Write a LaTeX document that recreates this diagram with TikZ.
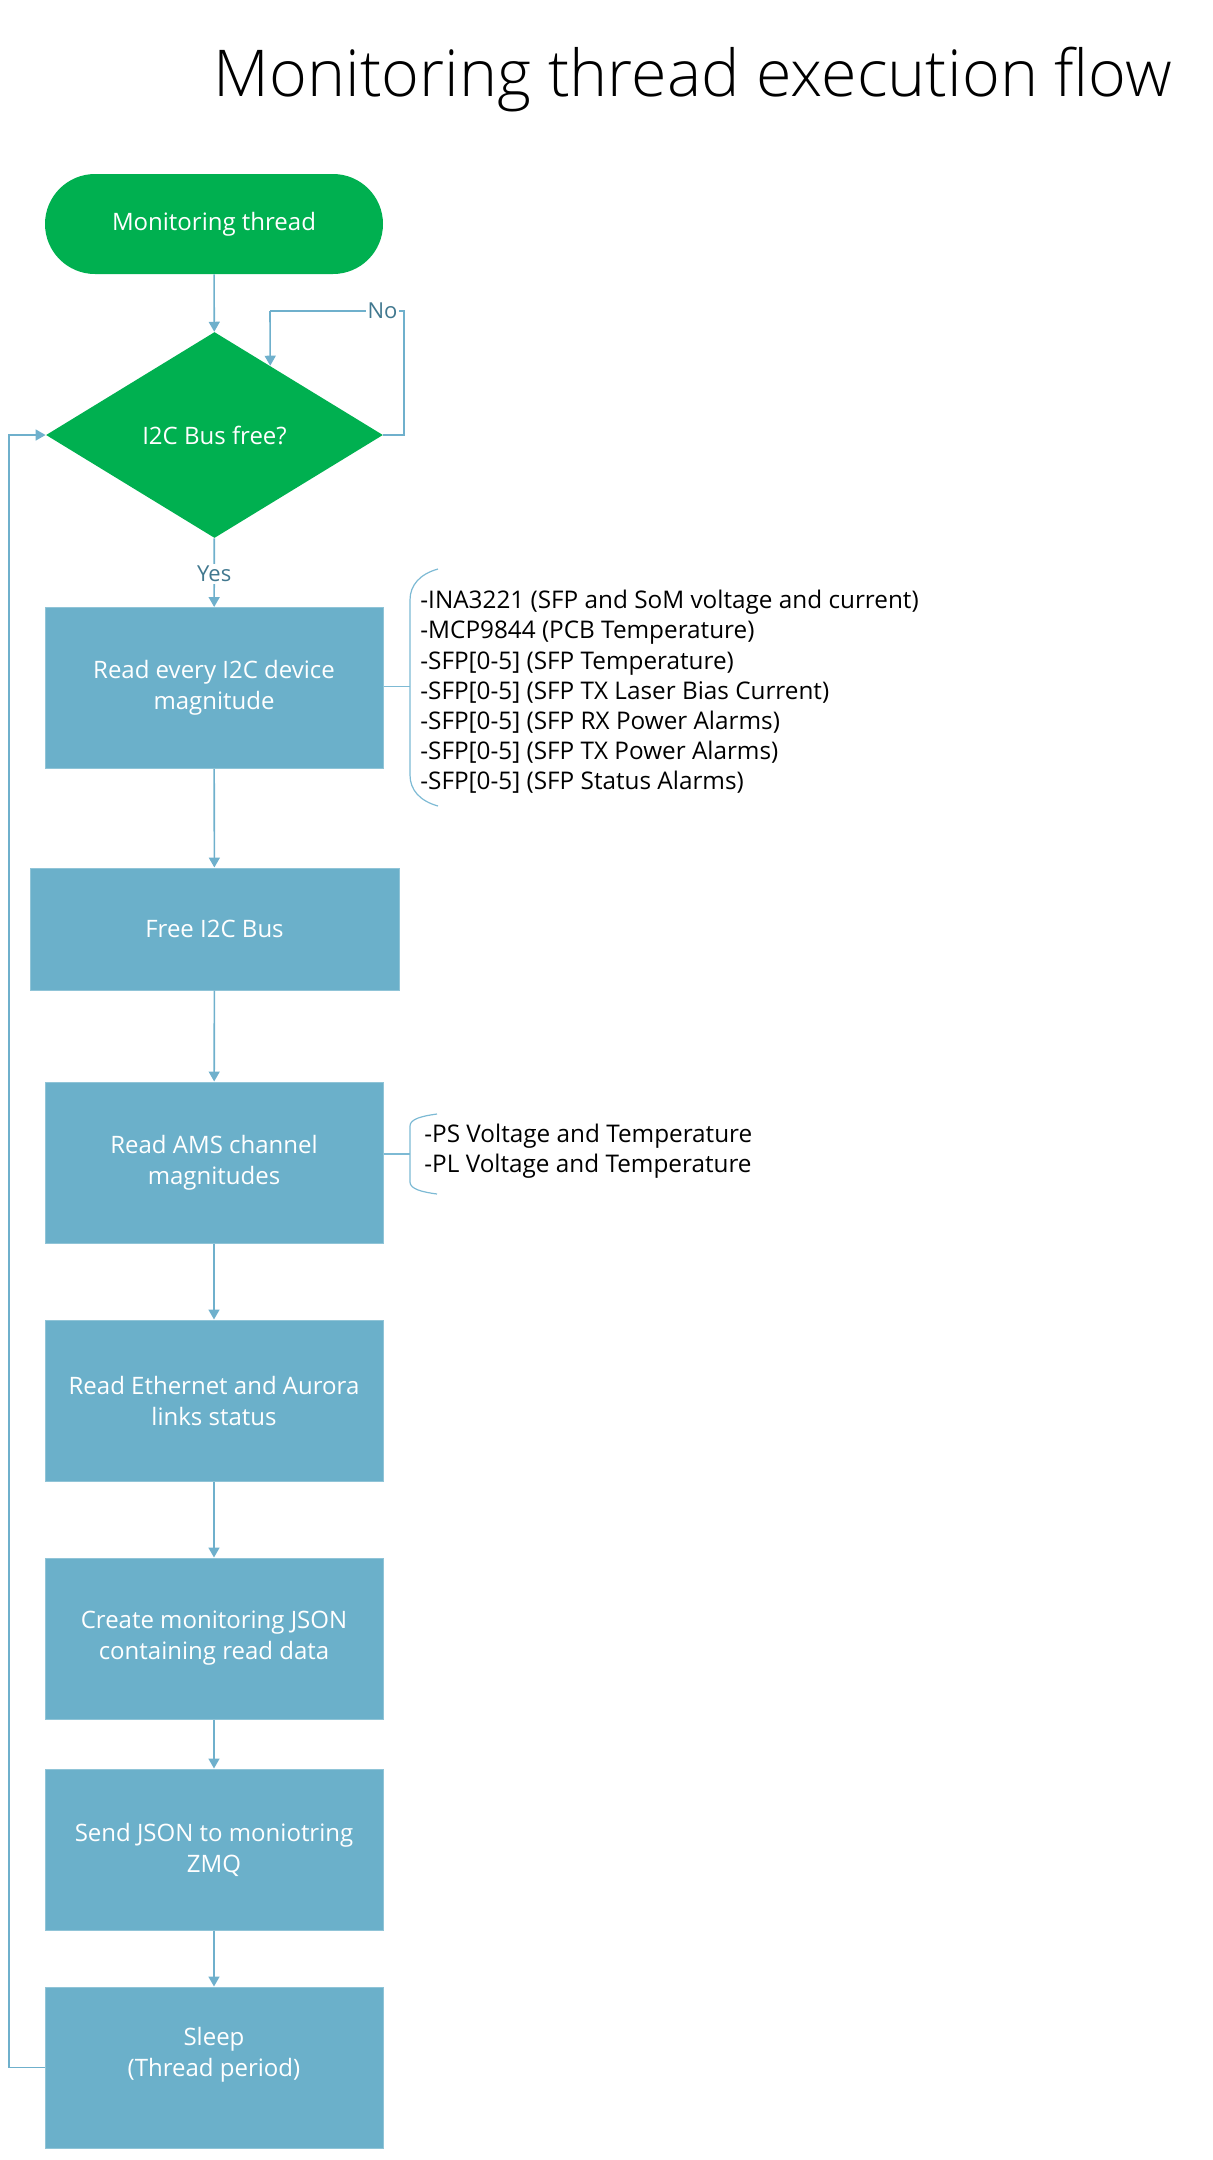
\documentclass[tikz,border=0pt]{standalone}
\usepackage{fontspec}
\setmainfont{Open Sans}
\IfFontExistsTF{Open Sans Light}{\newfontfamily\titlefont{Open Sans Light}}{\newfontfamily\titlefont{Open Sans}}
\usetikzlibrary{arrows.meta,shapes.geometric}
\definecolor{grnc}{HTML}{00B050}
\definecolor{boxc}{HTML}{6BB0CA}
\definecolor{lnc}{HTML}{6FB0CC}
\definecolor{lblc}{HTML}{41788F}
\definecolor{brcc}{HTML}{7DBAD4}
\tikzset{
  conn/.style={draw=lnc, line width=0.8pt, -{Triangle[length=5pt,width=5.5pt]}},
  plainline/.style={draw=lnc, line width=0.8pt},
  proc/.style={rectangle, fill=boxc, draw=boxc!75!white, line width=0.5pt, text=white,
    font=\fontsize{12}{15.5}\selectfont, align=center,
    minimum width=169pt, minimum height=80.5pt, inner sep=0pt},
  lbl/.style={fill=white, text=lblc, font=\fontsize{11}{13}\selectfont, inner sep=1pt},
  note/.style={font=\fontsize{12.15}{15.1}\selectfont, align=left, anchor=west, inner sep=0pt, text=black},
  brline/.style={draw=brcc, line width=0.6pt},
}
\begin{document}
\begin{tikzpicture}[x=0.5pt,y=-0.5pt]
\useasboundingbox (0,0) rectangle (1213,2160);

% title
\node[font=\titlefont\fontsize{32.3}{38}\selectfont, anchor=base, inner sep=0pt] (title) at (693,96) {Monitoring thread execution flow};

% start
\node[rectangle, rounded corners=25pt, fill=grnc, text=white, font=\fontsize{12}{15.5}\selectfont,
  minimum width=169pt, minimum height=50pt, inner sep=0pt] (start) at (214,224) {Monitoring thread};

% decision
\node[diamond, aspect=1.64, fill=grnc, text=white, font=\fontsize{12}{15.5}\selectfont,
  minimum width=168.5pt, minimum height=103pt, inner sep=0pt] (dia) at (214.5,435) {I2C Bus free?};

% process boxes
\node[proc] (b1) at (214,688) {Read every I2C device\\magnitude};
\node[proc, minimum width=184.5pt, minimum height=61pt] (b2) at (214.5,929) {Free I2C Bus};
\node[proc] (b3) at (214,1162.5) {Read AMS channel\\magnitudes};
\node[proc] (b4) at (214,1400.5) {Read Ethernet and Aurora\\links status};
\node[proc] (b5) at (214,1638.5) {Create monitoring JSON\\containing read data};
\node[proc] (b6) at (214,1849.5) {Send JSON to moniotring\\ZMQ};
\node[proc] (b7) at (214,2067.5) {Sleep\\(Thread period)\\\mbox{}};

% main connectors
\draw[conn] (start) -- (dia);
\draw[conn] (dia) -- node[lbl, pos=0.52] (yes) {Yes} (b1);
\draw[conn] (b1) -- (b2);
\draw[conn] (b2) -- (b3);
\draw[conn] (b3) -- (b4);
\draw[conn] (b4) -- (b5);
\draw[conn] (b5) -- (b6);
\draw[conn] (b6) -- (b7);

% "No" loop
\path (dia.north) -- (dia.east) coordinate[pos=0.33] (noin);
\coordinate (nor) at (404,435);
\coordinate (notr) at (404,311);
\coordinate (notl) at (270,311);
\draw[plainline] (dia.east) -- (nor) -- (notr) -- node[lbl, pos=0.16] (no) {No} (notl);
\draw[conn] (notl) -- (noin);

% return loop
\coordinate (retb) at (9,2067.5);
\draw[conn] (b7.west) -- (retb) |- (dia.west);

% annotation 1
\coordinate (br1mid) at (410,686.5);
\draw[brline] (b1.east |- br1mid) -- (br1mid);
\draw[brline] (438,569) .. controls (420,574) and (410,585) .. (410,600) -- (410,775)
  .. controls (410,790) and (420,801) .. (438,806);
\node[note] (n1) at (420,692) {-INA3221 (SFP and SoM voltage and current)\\
-MCP9844 (PCB Temperature)\\
-SFP[0-5] (SFP Temperature)\\
-SFP[0-5] (SFP TX Laser Bias Current)\\
-SFP[0-5] (SFP RX Power Alarms)\\
-SFP[0-5] (SFP TX Power Alarms)\\
-SFP[0-5] (SFP Status Alarms)};

% annotation 2
\coordinate (br2mid) at (410,1154);
\draw[brline] (b3.east |- br2mid) -- (br2mid);
\draw[brline] (437,1114) .. controls (422,1116) and (410,1119) .. (410,1126) -- (410,1182)
  .. controls (410,1189) and (422,1192) .. (437,1194);
\node[note] (n2) at (424,1151.5) {-PS Voltage and Temperature\\
-PL Voltage and Temperature};
\end{tikzpicture}
\end{document}
